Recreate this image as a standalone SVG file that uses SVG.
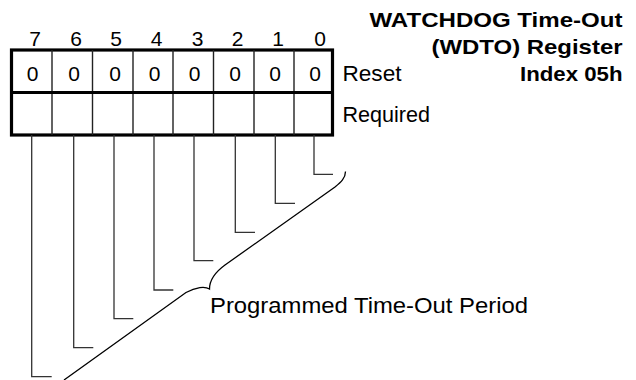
<svg xmlns="http://www.w3.org/2000/svg" width="636" height="380" viewBox="0 0 636 380">
<style>
text{font-family:"Liberation Sans",Arial,Helvetica,sans-serif;fill:#000}
.t{font-size:22px}
.d{font-size:21px;text-anchor:middle}
.b{font-size:21px;font-weight:bold;text-anchor:end}
.outer{fill:#fff;stroke:#000;stroke-width:3.2}
.div{stroke:#222;stroke-width:1.4;fill:none}
.lead{stroke:#333;stroke-width:1.3;fill:none}
.brace{stroke:#000;stroke-width:1.3;fill:none}
</style>
<rect width="636" height="380" fill="#fff"/>
<g id="title">
<text class="b" x="622.5" y="27" textLength="253" lengthAdjust="spacingAndGlyphs">WATCHDOG Time-Out</text>
<text class="b" x="622.5" y="54" textLength="191" lengthAdjust="spacingAndGlyphs">(WDTO) Register</text>
<text class="b" x="622.5" y="81" textLength="102.5" lengthAdjust="spacingAndGlyphs">Index 05h</text>
</g>
<g id="bit-numbers">
<text class="d" x="35" y="46">7</text>
<text class="d" x="76" y="46">6</text>
<text class="d" x="116" y="46">5</text>
<text class="d" x="156.5" y="46">4</text>
<text class="d" x="197.5" y="46">3</text>
<text class="d" x="237.5" y="46">2</text>
<text class="d" x="278" y="46">1</text>
<text class="d" x="320" y="46">0</text>
</g>
<g id="register">
<rect class="outer" x="11.5" y="50" width="321" height="85"/>
<path class="div" d="M52,50V135M92.5,50V135M133,50V135M173,50V135M213.5,50V135M254,50V135M294,50V135"/>
<line x1="11.5" y1="92.5" x2="332.5" y2="92.5" stroke="#000" stroke-width="3.2"/>
<text class="d" x="32.5" y="80.5">0</text>
<text class="d" x="74" y="80.5">0</text>
<text class="d" x="115" y="80.5">0</text>
<text class="d" x="154.5" y="80.5">0</text>
<text class="d" x="194.5" y="80.5">0</text>
<text class="d" x="235" y="80.5">0</text>
<text class="d" x="275" y="80.5">0</text>
<text class="d" x="315" y="80.5">0</text>
</g>
<g id="row-labels">
<text class="t" x="342.5" y="81" textLength="59" lengthAdjust="spacingAndGlyphs">Reset</text>
<text class="t" x="342.5" y="122" textLength="87.5" lengthAdjust="spacingAndGlyphs">Required</text>
</g>
<g id="connectors">
<path class="lead" d="M31.7,135V376.7H51.7"/>
<path class="lead" d="M73.7,135V347.7H93.3"/>
<path class="lead" d="M114,135V318.7H133.3"/>
<path class="lead" d="M154,135V290H173.3"/>
<path class="lead" d="M194,135V260.7H213.3"/>
<path class="lead" d="M235.3,135V232.3H255"/>
<path class="lead" d="M275.3,135V203.3H295"/>
<path class="lead" d="M314,135V174.3H333"/>
<path class="brace" d="M345.5,171.5C345.5,178 341,182 335,187L225,265C214,273 209.5,280 209.5,289C205,286 196,287 186,292.5L64,380"/>
</g>
<g id="brace-label">
<text class="t" x="210" y="312.5" textLength="318" lengthAdjust="spacingAndGlyphs">Programmed Time-Out Period</text>
</g>
</svg>
